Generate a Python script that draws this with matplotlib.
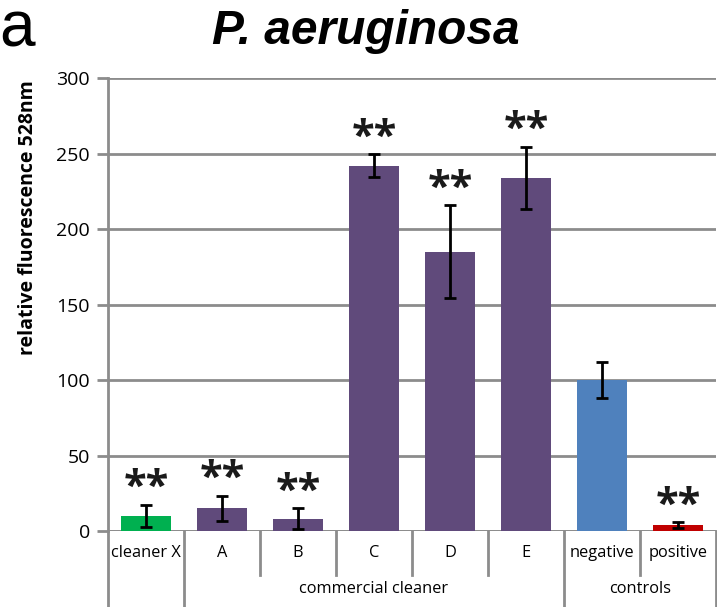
import matplotlib
matplotlib.use("Agg")
import matplotlib.pyplot as plt
import numpy as np

plt.rcParams['font.family'] = ['Open Sans', 'DejaVu Sans']

# data
categories = ["cleaner X", "A", "B", "C", "D", "E", "negative", "positive"]
values = [10, 15, 8, 242, 185, 234, 100, 4]
errors = [7.5, 8.5, 7, 7.5, 31, 20.5, 12, 2]
bar_colors = ["#00b050", "#604a7b", "#604a7b", "#604a7b", "#604a7b", "#604a7b",
              "#4f81bd", "#c00000"]
significant = [True, True, True, True, True, True, False, True]
groups = [("", 0, 0), ("commercial cleaner", 1, 5), ("controls", 6, 7)]
yticks = [0, 50, 100, 150, 200, 250, 300]

grid_col = "#8c8c8c"

fig = plt.figure(figsize=(7.17, 6.07), dpi=100)
ax = fig.add_axes([0.1506, 0.1252, 0.8480, 0.7463])

x = np.arange(len(categories))
ax.bar(x, values, width=0.67, color=bar_colors, zorder=3)
ax.errorbar(x, values, yerr=errors, fmt='none', ecolor='black', elinewidth=2,
            capsize=4.3, capthick=2, zorder=4)

for xi, v, e, s in zip(x, values, errors, significant):
    if s:
        ax.text(xi, v + e - 3, "**", ha='center', va='bottom', fontsize=30,
                fontweight='bold', color='#1a1a1a', zorder=5)

ax.set_xlim(-0.5, len(categories) - 0.5)
ax.set_ylim(0, 300)
ax.set_yticks(yticks)
ax.tick_params(axis='y', length=8, width=2, color=grid_col, labelsize=14, pad=5)
ax.set_xticks([])
ax.yaxis.grid(True, color=grid_col, linewidth=2, zorder=0)
ax.set_axisbelow(True)
for side in ['top', 'right', 'bottom']:
    ax.spines[side].set_visible(False)
ax.spines['left'].set_color(grid_col)
ax.spines['left'].set_linewidth(2)
ax.axhline(0, color=grid_col, linewidth=2, zorder=2)

fig.text(0.039, 1 - 218 / 607, "relative fluorescence 528nm", rotation=90,
         ha='center', va='center', fontsize=14, fontweight='bold')

# multi-level category axis
trans = ax.get_xaxis_transform()
group_edges = set()
for name, a, b in groups:
    group_edges.add(a - 0.5)
    group_edges.add(b + 0.5)
for i in range(len(categories) + 1):
    xe = i - 0.5
    y_end = -0.168 if xe in group_edges else -0.097
    ax.plot([xe, xe], [0, y_end], transform=trans, color=grid_col, lw=2,
            clip_on=False)
for xi, c in zip(x, categories):
    ax.text(xi, -0.048, c, transform=trans, ha='center', va='center', fontsize=11.8)
for name, a, b in groups:
    ax.text((a + b) / 2, -0.128, name, transform=trans, ha='center', va='center',
            fontsize=11.8)

fig.text(0.51, 0.948, "P. aeruginosa", ha='center', va='center', fontsize=34.5,
         fontweight='bold', style='italic', family=['Liberation Sans', 'DejaVu Sans'])
fig.text(0.024, 0.952, "a", ha='center', va='center', fontsize=46,
         family=['Liberation Sans Narrow', 'Liberation Sans', 'DejaVu Sans'])

fig.savefig("out.png", dpi=100)
